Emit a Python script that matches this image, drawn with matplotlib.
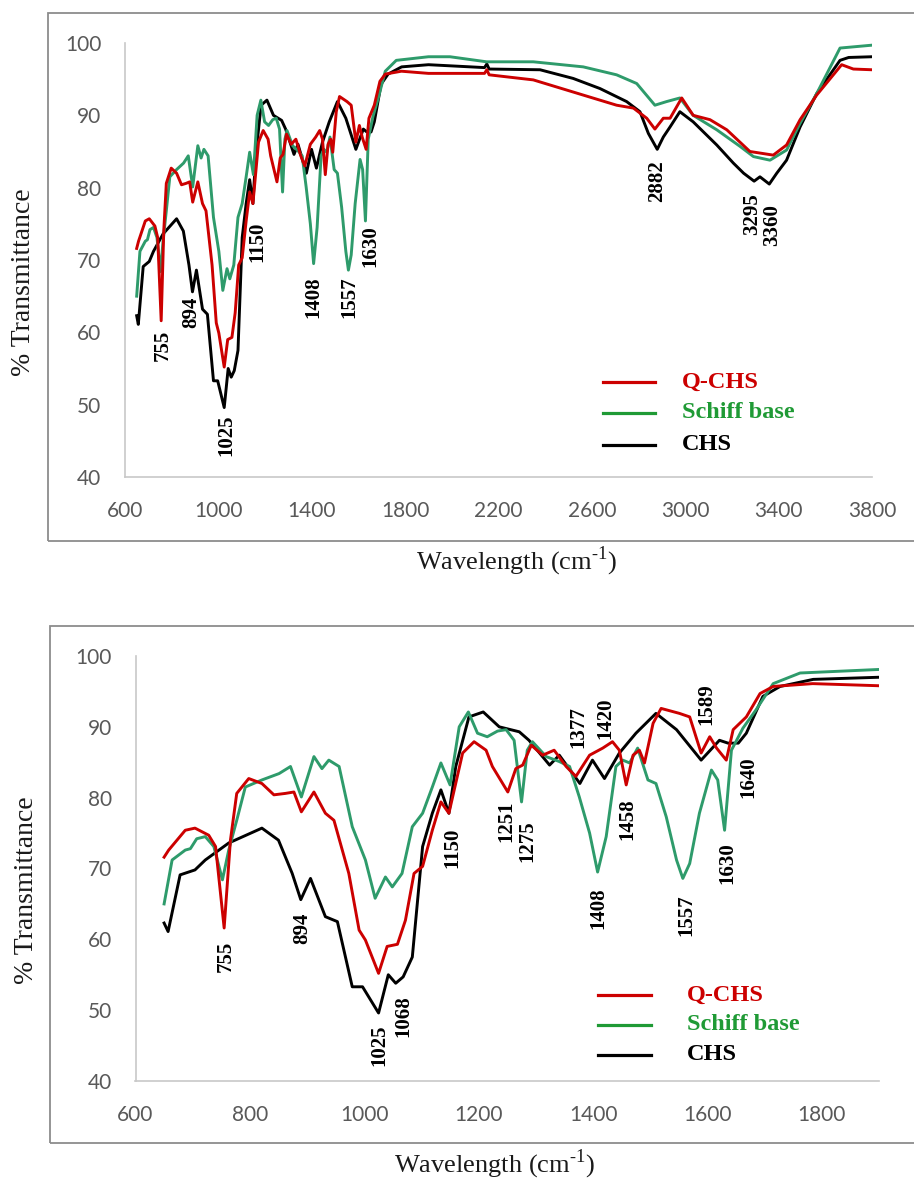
import matplotlib
matplotlib.use("Agg")
import matplotlib.pyplot as plt
from matplotlib.lines import Line2D
from matplotlib.patches import Rectangle

plt.rcParams["mathtext.fontset"] = "custom"
plt.rcParams["mathtext.rm"] = "Liberation Serif"

# ---- FTIR spectra (wavenumber in cm-1, % transmittance) ----
chs_wn = [650, 657, 678, 704, 722, 763, 821, 850, 874, 889, 906, 932, 953, 979,
          997, 1025, 1042, 1055, 1068, 1084, 1102, 1119, 1134, 1148, 1160, 1183,
          1208, 1236, 1271, 1288, 1324, 1341, 1377, 1399, 1420, 1446, 1475, 1510,
          1546, 1589, 1621, 1636, 1654, 1668, 1697, 1727, 1785, 1900, 2140, 2150,
          2160, 2378, 2520, 2635, 2749, 2806, 2842, 2880, 2906, 2935, 2977, 3034,
          3135, 3206, 3250, 3295, 3320, 3360, 3392, 3434, 3492, 3563, 3663, 3700,
          3800]
chs_t = [62.3, 61.1, 69.1, 69.8, 71.2, 73.6, 75.7, 74.0, 69.3, 65.6, 68.6, 63.2,
         62.5, 53.3, 53.3, 49.6, 55.0, 53.8, 54.7, 57.5, 73.1, 77.8, 81.1, 77.8,
         84.4, 91.4, 92.1, 90.0, 89.3, 88.1, 84.6, 86.0, 82.0, 85.3, 82.7, 86.3,
         89.1, 91.9, 89.6, 85.3, 88.1, 87.7, 87.7, 89.1, 94.3, 95.7, 96.7, 97.0,
         96.6, 97.1, 96.4, 96.3, 95.1, 93.7, 91.9, 90.5, 87.5, 85.3, 87.0, 88.4,
         90.5, 89.1, 85.9, 83.4, 82.0, 80.9, 81.5, 80.5, 82.0, 83.8, 88.4, 93.0,
         97.6, 98.0, 98.1]

qchs_wn = [650, 658, 687, 704, 728, 740, 755, 766, 777, 798, 821, 842, 862, 877,
           890, 912, 932, 947, 973, 991, 1002, 1025, 1040, 1058, 1072, 1087, 1102,
           1119, 1134, 1148, 1172, 1192, 1213, 1224, 1251, 1265, 1277, 1292, 1312,
           1332, 1353, 1370, 1394, 1417, 1434, 1446, 1458, 1470, 1481, 1490, 1505,
           1519, 1551, 1569, 1589, 1604, 1616, 1633, 1645, 1668, 1692, 1715, 1784,
           1900, 2140, 2150, 2160, 2349, 2563, 2706, 2778, 2835, 2870, 2906, 2935,
           2985, 3034, 3106, 3178, 3277, 3377, 3434, 3492, 3563, 3670, 3720, 3800]
qchs_t = [71.6, 72.6, 75.4, 75.7, 74.7, 73.1, 61.6, 74.0, 80.6, 82.7, 82.0, 80.4,
          80.6, 80.8, 78.0, 80.8, 77.8, 76.8, 69.3, 61.3, 59.9, 55.2, 59.0, 59.3,
          62.7, 69.3, 70.3, 75.4, 79.4, 77.8, 86.3, 87.9, 86.7, 84.4, 80.8, 84.1,
          84.6, 87.4, 86.0, 86.7, 84.4, 83.0, 86.0, 87.0, 87.9, 86.7, 81.8, 86.0,
          86.7, 84.9, 90.5, 92.6, 91.9, 91.4, 86.3, 88.6, 87.0, 85.3, 89.6, 91.4,
          94.7, 95.7, 96.1, 95.8, 95.8, 96.3, 95.6, 94.9, 92.8, 91.4, 91.0, 89.6,
          88.1, 89.6, 89.6, 92.4, 90.0, 89.4, 88.0, 85.0, 84.5, 85.9, 89.4, 92.8,
          97.0, 96.4, 96.3]

schiff_wn = [650, 664, 687, 696, 707, 722, 737, 752, 763, 777, 792, 821, 851, 871,
             890, 912, 926, 938, 956, 979, 1002, 1019, 1037, 1049, 1066, 1084, 1102,
             1119, 1134, 1150, 1166, 1182, 1198, 1215, 1233, 1248, 1262, 1275, 1285,
             1294, 1318, 1341, 1359, 1376, 1394, 1408, 1423, 1440, 1452, 1464, 1478,
             1496, 1510, 1528, 1546, 1557, 1569, 1586, 1607, 1618, 1630, 1642, 1662,
             1685, 1715, 1762, 1900, 1992, 2149, 2349, 2563, 2706, 2792, 2870, 2920,
             2977, 3034, 3135, 3235, 3292, 3363, 3434, 3492, 3563, 3663, 3800]
schiff_t = [65.0, 71.2, 72.6, 72.8, 74.2, 74.5, 73.1, 68.4, 72.6, 76.8, 81.5, 82.5,
            83.4, 84.4, 80.1, 85.8, 84.1, 85.3, 84.4, 75.9, 71.2, 65.8, 68.8, 67.4,
            69.3, 75.9, 77.8, 81.5, 84.9, 81.8, 90.0, 92.1, 89.1, 88.6, 89.4, 89.6,
            88.1, 79.4, 86.7, 87.9, 85.8, 85.1, 84.4, 80.1, 75.0, 69.5, 74.5, 84.4,
            85.3, 84.9, 87.0, 82.5, 82.0, 77.3, 71.2, 68.6, 70.7, 77.8, 83.9, 82.5,
            75.4, 86.7, 89.8, 92.4, 96.1, 97.6, 98.1, 98.1, 97.4, 97.4, 96.7, 95.6,
            94.4, 91.4, 91.9, 92.4, 90.0, 88.0, 85.7, 84.3, 83.8, 85.2, 88.9, 93.0,
            99.3, 99.7]

series_names = ["Q-CHS", "Schiff base", "CHS"]

# peak labels: (text, x, y) in data coordinates
top_peaks = [("755", 763, 58.2), ("894", 883, 62.8), ("1025", 1033, 45.8),
             ("1150", 1165, 72.5), ("1408", 1405, 64.9), ("1557", 1563, 64.9),
             ("1630", 1649, 71.9), ("2882", 2879, 80.9), ("3295", 3286, 76.4),
             ("3360", 3372, 74.8)]
bottom_peaks = [("755", 758, 57.6), ("894", 891, 61.6), ("1025", 1026, 45.1),
                ("1068", 1068, 49.2), ("1150", 1154, 72.9), ("1251", 1248, 76.6),
                ("1275", 1285, 73.9), ("1377", 1374, 90.0), ("1420", 1422, 91.2),
                ("1408", 1409, 64.4), ("1458", 1460, 77.0), ("1557", 1564, 63.4),
                ("1589", 1599, 93.2), ("1630", 1635, 70.8), ("1640", 1671, 82.9)]

RED = "#cc0000"
TEAL = "#2e9b6b"
BLACK = "#000000"
LEG_GREEN = "#1f9a35"

W, H = 914, 1180
fig = plt.figure(figsize=(W / 100, H / 100), dpi=100)


def fx(px):
    return px / W


def fy(py):
    return 1 - py / H


tick_font = dict(family="Lato", size=15, color="#595959")
serif = "Liberation Serif"


def panel(rect, xlim, xticks, peaks, legend_xy, frame, xlab_xy, ylab_xy):
    # outer chart frame
    fx0, fy0, fx1, fy1 = frame
    fig.add_artist(Rectangle((fx(fx0), fy(fy1)), fx(fx1 - fx0), (fy1 - fy0) / H,
                             transform=fig.transFigure, fill=False,
                             edgecolor="#8c8c8c", lw=1.3))
    l, t, r, b = rect
    ax = fig.add_axes([fx(l), fy(b), fx(r - l), (b - t) / H])
    for wn, tr, c in [(chs_wn, chs_t, BLACK), (schiff_wn, schiff_t, TEAL),
                      (qchs_wn, qchs_t, RED)]:
        ax.plot(wn, tr, color=c, lw=2.1, solid_joinstyle="round")
    ax.set_xlim(*xlim)
    ax.set_ylim(40, 100)
    ax.set_xticks(xticks)
    ax.set_yticks(range(40, 101, 10))
    for s in ("top", "right"):
        ax.spines[s].set_visible(False)
    for s in ("left", "bottom"):
        ax.spines[s].set_color("#c8c8c8")
        ax.spines[s].set_linewidth(1.2)
    ax.tick_params(length=0)
    ax.tick_params(axis="y", pad=17)
    ax.tick_params(axis="x", pad=17)
    for lab in ax.get_xticklabels() + ax.get_yticklabels():
        lab.set_fontfamily(tick_font["family"])
        lab.set_fontsize(tick_font["size"])
        lab.set_color(tick_font["color"])
    ax.patch.set_alpha(0)
    for txt, x, y in peaks:
        ax.text(x, y, txt, rotation=90, ha="center", va="center",
                family=serif, fontweight="bold", fontsize=15, color="black")
    # legend
    lx0, lx1, tx, rows = legend_xy
    for (name, lc, tc), row in zip([("Q-CHS", RED, RED),
                                    ("Schiff base", LEG_GREEN, LEG_GREEN),
                                    ("CHS", BLACK, BLACK)], rows):
        fig.add_artist(Line2D([fx(lx0), fx(lx1)], [fy(row), fy(row)],
                              transform=fig.transFigure, color=lc, lw=2.3))
        fig.text(fx(tx), fy(row), name, ha="left", va="center", family=serif,
                 fontweight="bold", fontsize=17.5, color=tc)
    fig.text(fx(xlab_xy[0]), fy(xlab_xy[1]), r"Wavelength (cm$^{\text{-1}}$)",
             ha="center", va="center", family=serif, fontsize=19, color="#1a1a1a")
    fig.text(fx(ylab_xy[0]), fy(ylab_xy[1]), "% Transmittance", rotation=90,
             ha="center", va="center", family=serif, fontsize=20, color="#1a1a1a")
    return ax


panel((125, 43, 872, 477), (600, 3800), range(600, 3801, 400), top_peaks,
      (603, 655, 682, (382, 413, 445)), (48, 13, 930, 541), (517, 561), (24, 282))
panel((135.5, 656, 879, 1081), (600, 1900), range(600, 1801, 200), bottom_peaks,
      (598, 651, 687, (995, 1025, 1055)), (50, 626, 930, 1143), (495, 1164),
      (27, 890))

fig.savefig("out.png", dpi=100, facecolor="white")
